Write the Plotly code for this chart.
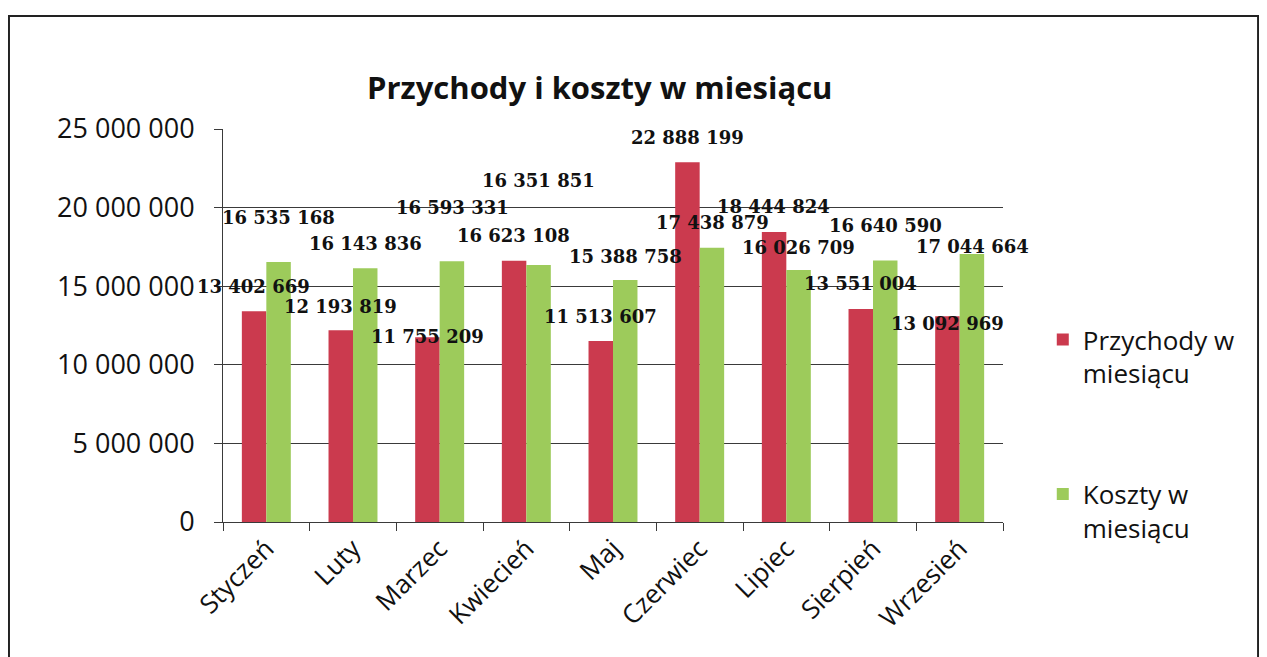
import plotly.graph_objects as go

# Dane z wykresu
miesiace = ["Styczeń", "Luty", "Marzec", "Kwiecień", "Maj", "Czerwiec", "Lipiec", "Sierpień", "Wrzesień"]
przychody = [13402669, 12193819, 11755209, 16623108, 11513607, 22888199, 18444824, 13551004, 13092969]
koszty = [16535168, 16143836, 16593331, 16351851, 15388758, 17438879, 16026709, 16640590, 17044664]
y_ticks = [0, 5000000, 10000000, 15000000, 20000000, 25000000]

# przesunięcia etykiet (px nad wierzchołkiem słupka) - ręcznie poprzesuwane w oryginale
shift_przychody = [25, 24, 1, 25, 25, 25, 26, 25, -7]
shift_koszty = [45, 25, 54, 84, 24, 25, 23, 35, 8]

RED = "#CB3A4E"
GREEN = "#9DCB5B"
GRID = "#3a3a3a"
FONT = "Open Sans"
LABEL_FONT = dict(family="DejaVu Serif", size=18, color="#111")


def fmt(v):
    return f"{v:,}".replace(",", " ")


fig = go.Figure()
fig.add_trace(go.Bar(x=miesiace, y=przychody, name="Przychody w<br>miesiącu",
                     marker=dict(color=RED, line=dict(width=0)), legendgroup="p"))
fig.add_trace(go.Bar(x=miesiace, y=koszty, name="Koszty w<br>miesiącu",
                     marker=dict(color=GREEN, line=dict(width=0)), legendgroup="k"))

# etykiety danych
for m, v, s in zip(miesiace, przychody, shift_przychody):
    fig.add_annotation(x=m, y=v, text="<b>" + fmt(v) + "</b>", showarrow=False, xshift=-12.5, yshift=s,
                       font=LABEL_FONT, xanchor="center", yanchor="middle")
for m, v, s in zip(miesiace, koszty, shift_koszty):
    fig.add_annotation(x=m, y=v, text="<b>" + fmt(v) + "</b>", showarrow=False, xshift=12.5, yshift=s,
                       font=LABEL_FONT, xanchor="center", yanchor="middle")

# ramka wykresu
fig.add_shape(type="rect", xref="paper", yref="paper", x0=-0.2744, x1=1.327, y0=-0.36, y1=1.2875,
              line=dict(color="#222", width=2), layer="below")

fig.update_layout(
    width=1259,
    height=649,
    margin=dict(l=215, r=264, t=121, b=135),
    paper_bgcolor="white",
    plot_bgcolor="white",
    separators=", ",
    barmode="group",
    bargap=0.435,
    bargroupgap=0,
    title=dict(text="<b>Przychody i koszty w miesiącu</b>", x=0.483, xref="paper", xanchor="center",
               y=1 - 80 / 649, yanchor="middle",
               font=dict(family=FONT, size=31, color="#111")),
    font=dict(family=FONT, size=22, color="#111"),
    showlegend=True,
    legend=dict(x=1.051, y=0.524, xanchor="left", yanchor="top", traceorder="grouped",
                tracegroupgap=84, valign="top", font=dict(family=FONT, size=26, color="#111"),
                itemwidth=30),
    xaxis=dict(range=[-0.5, 8.5], showline=True, linecolor=GRID, linewidth=1, ticks="outside",
               tickson="boundaries", ticklen=8, tickcolor=GRID, tickangle=-45, showgrid=False,
               tickfont=dict(family=FONT, size=26, color="#111")),
    yaxis=dict(range=[0, 25000000], tickvals=y_ticks, tickformat=",d", showline=True,
               linecolor=GRID, linewidth=1, ticks="outside", ticklen=8, tickcolor=GRID,
               ticklabelstandoff=14,
               showgrid=True, gridcolor=GRID, gridwidth=1, zeroline=False,
               tickfont=dict(family=FONT, size=27, color="#111")),
)

fig.write_html("out.html")
